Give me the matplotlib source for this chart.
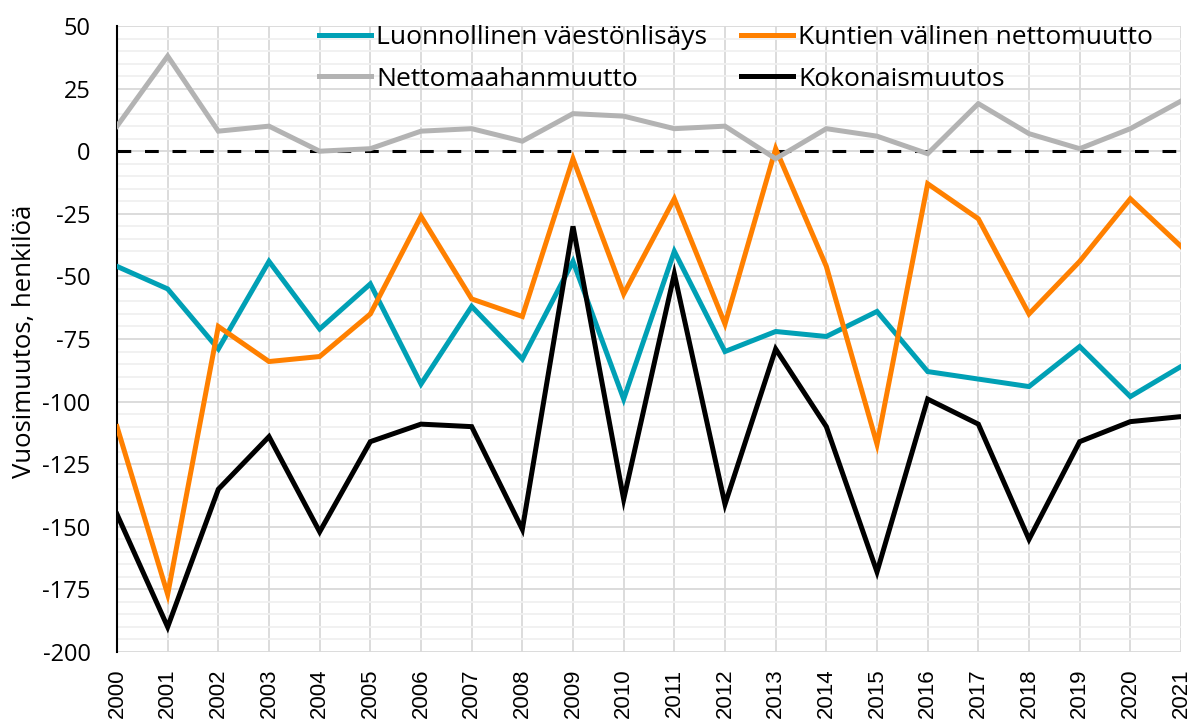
import matplotlib
matplotlib.use("Agg")
import matplotlib.pyplot as plt
from matplotlib.ticker import MultipleLocator

plt.rcParams["axes.unicode_minus"] = False

years = list(range(2000, 2022))
luonnollinen = [-46, -55, -79, -44, -71, -53, -93, -62, -83, -44, -99, -40,
                -80, -72, -74, -64, -88, -91, -94, -78, -98, -86]
kuntien = [-110, -177, -70, -84, -82, -65, -26, -59, -66, -3, -57, -19,
           -69, 1, -46, -117, -13, -27, -65, -44, -19, -38]
netto = [10, 38, 8, 10, 0, 1, 8, 9, 4, 15, 14, 9,
         10, -3, 9, 6, -1, 19, 7, 1, 9, 20]
koko = [-145, -190, -135, -114, -152, -116, -109, -110, -151, -30, -139, -49,
        -141, -79, -110, -168, -99, -109, -155, -116, -108, -106]

labels = ["Luonnollinen väestönlisäys", "Kuntien välinen nettomuutto",
          "Nettomaahanmuutto", "Kokonaismuutos"]
colors = ["#00a0b5", "#ff8000", "#b3b3b3", "#000000"]
ytick_vals = list(range(-200, 51, 25))

W, H = 1192, 724
fig = plt.figure(figsize=(W / 100, H / 100), dpi=100)
ax = fig.add_axes([117 / W, 1 - 652 / H, (1181 - 117) / W, (652 - 26) / H])

ax.set_xlim(2000, 2021)
ax.set_ylim(-200, 50)
ax.set_yticks(ytick_vals)
ax.set_yticklabels([str(v) for v in ytick_vals], fontfamily="Open Sans",
                   fontsize=17)
ax.yaxis.set_minor_locator(MultipleLocator(5))
ax.set_xticks(years)
ax.set_xticklabels([str(y) for y in years], rotation=90, va="top",
                   fontfamily="Liberation Sans", fontsize=16)
ax.grid(which="major", axis="both", color="#d9d9d9", lw=1.3, zorder=0)
ax.grid(which="minor", axis="y", color="#f0f0f0", lw=1.3, zorder=0)
ax.set_axisbelow(True)

ax.axhline(0, color="black", lw=2.2, ls=(0, (4.5, 4.5)), zorder=1)

series = [luonnollinen, kuntien, netto, koko]
handles = []
for vals, lab, col in zip(series, labels, colors):
    h, = ax.plot(years, vals, color=col, lw=3.6, label=lab, zorder=3,
                 solid_joinstyle="miter")
    handles.append(h)

for s in ["top", "right", "bottom"]:
    ax.spines[s].set_visible(False)
ax.spines["left"].set_color("black")
ax.spines["left"].set_linewidth(1.5)
ax.tick_params(axis="both", which="both", length=0)
ax.tick_params(axis="y", pad=19)
ax.tick_params(axis="x", pad=12)

ax.set_ylabel("Vuosimuutos, henkilöä", fontfamily="Open Sans", fontsize=18.5)
ax.yaxis.set_label_coords(-0.075, 0.496)

order = [0, 2, 1, 3]
leg = fig.legend([handles[i] for i in order], [labels[i] for i in order],
                 ncol=2, loc="upper left",
                 bbox_to_anchor=(306 / W, 1 - 12 / H),
                 frameon=False, borderpad=0, handlelength=1.95,
                 handletextpad=0.2, columnspacing=1.3, labelspacing=0.62,
                 prop={"family": "Open Sans", "size": 19})

fig.savefig("out.png", dpi=100)
